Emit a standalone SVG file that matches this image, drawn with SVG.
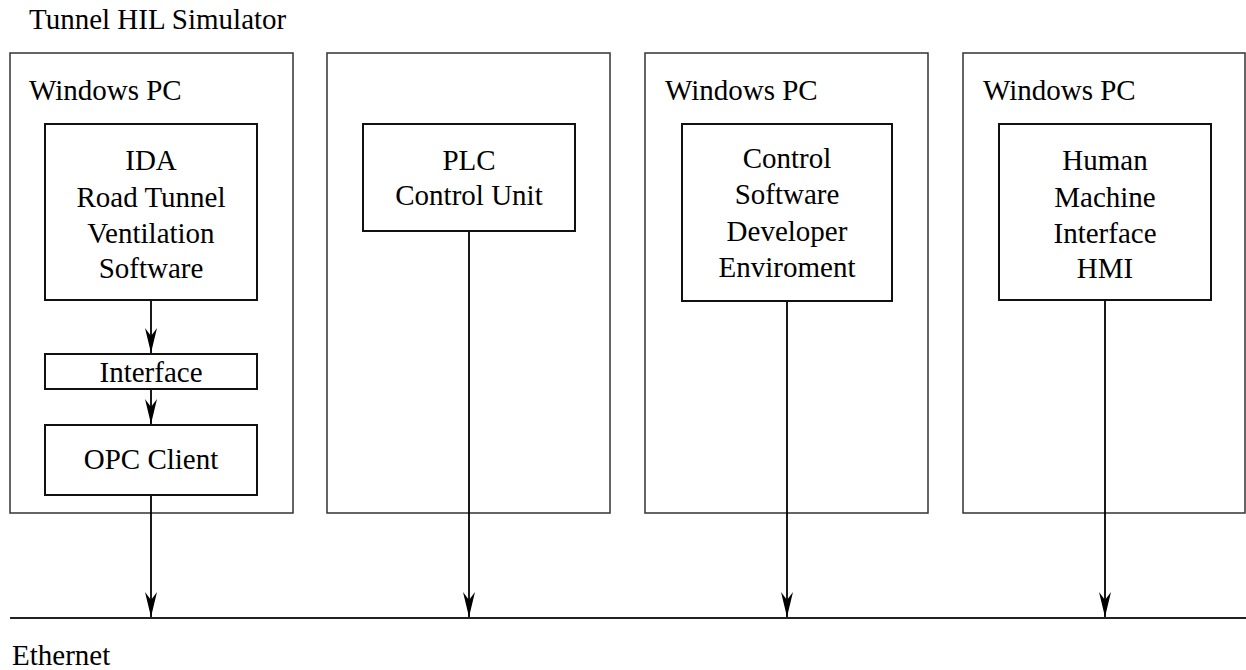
<svg xmlns="http://www.w3.org/2000/svg" width="1246" height="670" viewBox="0 0 1246 670">
<style>
text{font-size:29px;fill:#000}
.c{text-anchor:middle}
.outer{fill:none;stroke:#333;stroke-width:1.5}
.inner{fill:#fff;stroke:#111;stroke-width:2}
.conn{stroke:#000;stroke-width:1.8;fill:none}
</style>
<defs>
<marker id="arr" markerUnits="userSpaceOnUse" markerWidth="26" markerHeight="14" refX="25" refY="7" orient="auto" viewBox="0 0 26 14">
<path d="M0,1 L25,7 L0,13 L8,7 z" fill="#000"/>
</marker>
</defs>
<g font-family="Liberation Serif, DejaVu Serif, serif">
<text x="29" y="29">Tunnel HIL Simulator</text>
<g id="pc1">
<rect class="outer" x="10" y="53" width="283" height="460"/>
<text x="29" y="100">Windows PC</text>
</g>
<g id="pc2">
<rect class="outer" x="327" y="53" width="283" height="460"/>
</g>
<g id="pc3">
<rect class="outer" x="645" y="53" width="283" height="460"/>
<text x="665" y="100">Windows PC</text>
</g>
<g id="pc4">
<rect class="outer" x="963" y="53" width="282" height="460"/>
<text x="983" y="100">Windows PC</text>
</g>
<g id="ida">
<rect class="inner" x="45" y="124" width="212" height="176"/>
<text class="c" x="151" y="170">IDA</text>
<text class="c" x="151" y="207">Road Tunnel</text>
<text class="c" x="151" y="243">Ventilation</text>
<text class="c" x="151" y="278">Software</text>
</g>
<g id="interface">
<rect class="inner" x="45" y="354" width="212" height="35"/>
<text class="c" x="151" y="382">Interface</text>
</g>
<g id="opc">
<rect class="inner" x="45" y="425" width="212" height="70"/>
<text class="c" x="151" y="469">OPC Client</text>
</g>
<g id="plc">
<rect class="inner" x="363" y="124" width="212" height="107"/>
<text class="c" x="469" y="170">PLC</text>
<text class="c" x="469" y="205">Control Unit</text>
</g>
<g id="csde">
<rect class="inner" x="682" y="124" width="210" height="177"/>
<text class="c" x="787" y="168">Control</text>
<text class="c" x="787" y="204">Software</text>
<text class="c" x="787" y="241">Developer</text>
<text class="c" x="787" y="277">Enviroment</text>
</g>
<g id="hmi">
<rect class="inner" x="999" y="124" width="212" height="176"/>
<text class="c" x="1105" y="170">Human</text>
<text class="c" x="1105" y="207">Machine</text>
<text class="c" x="1105" y="243">Interface</text>
<text class="c" x="1105" y="278">HMI</text>
</g>
<g id="ethernet">
<line x1="10" y1="618" x2="1246" y2="618" stroke="#222" stroke-width="2.2"/>
<text x="12" y="665">Ethernet</text>
</g>
</g>
<g id="connectors">
<line class="conn" x1="151" y1="301" x2="151" y2="353" marker-end="url(#arr)"/>
<line class="conn" x1="151" y1="390" x2="151" y2="424" marker-end="url(#arr)"/>
<line class="conn" x1="151" y1="496" x2="151" y2="617" marker-end="url(#arr)"/>
<line class="conn" x1="469" y1="232" x2="469" y2="617" marker-end="url(#arr)"/>
<line class="conn" x1="787" y1="302" x2="787" y2="617" marker-end="url(#arr)"/>
<line class="conn" x1="1105" y1="301" x2="1105" y2="617" marker-end="url(#arr)"/>
</g>
</svg>
